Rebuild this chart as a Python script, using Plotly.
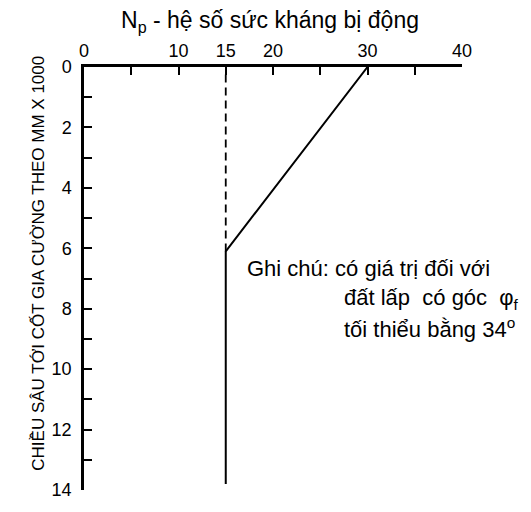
import plotly.graph_objects as go

# Data
np_solid = [30, 15, 15]
depth_solid = [0, 6.1, 13.8]
np_dashed = [15, 15]
depth_dashed = [0.25, 6.1]

x_tick_vals = [0, 10, 15, 20, 30, 40]
x_tick_text = ["0", "10", "15", "20", "30", "40"]
y_tick_vals = [0, 2, 4, 6, 8, 10, 12, 14]
y_tick_text = ["0", "2", "4", "6", "8", "10", "12", "14"]

title_text = "N<sub>p</sub> - hệ số sức kháng bị động"
y_title = "CHIỀU SÂU TỚI CỐT GIA CƯỜNG THEO MM X 1000"
note_lines = ["Ghi chú: có giá trị đối với",
              "đất lấp  có góc  φ<sub>f</sub>",
              "tối thiểu bằng 34<sup>o</sup>"]

fig = go.Figure()
fig.add_trace(go.Scatter(x=np_solid, y=depth_solid, mode="lines",
                         line=dict(color="black", width=2), showlegend=False,
                         hoverinfo="skip"))
fig.add_trace(go.Scatter(x=np_dashed, y=depth_dashed, mode="lines",
                         line=dict(color="black", width=1.8, dash="8px,5px"),
                         showlegend=False, hoverinfo="skip"))

font_family = "Liberation Sans, Arial, sans-serif"

fig.update_layout(
    width=531, height=512,
    margin=dict(l=84, r=69, t=67, b=15),
    paper_bgcolor="white", plot_bgcolor="white",
    font=dict(family=font_family, color="black"),
    xaxis=dict(side="top", range=[0, 40], tickmode="array",
               tickvals=x_tick_vals, ticktext=x_tick_text,
               ticks="inside", ticklen=8, tickwidth=2, tickcolor="black",
               minor=dict(ticks="inside", dtick=5, tick0=0, ticklen=8,
                          tickwidth=2, tickcolor="black", showgrid=False),
               showline=True, linecolor="black", linewidth=2.5,
               showgrid=False, zeroline=False, mirror=False,
               tickfont=dict(size=18, family=font_family)),
    yaxis=dict(range=[14, 0], tickmode="array",
               tickvals=y_tick_vals, ticktext=y_tick_text,
               ticks="inside", ticklen=8, tickwidth=2, tickcolor="black",
               minor=dict(ticks="inside", dtick=1, tick0=0, ticklen=8,
                          tickwidth=2, tickcolor="black", showgrid=False),
               showline=True, linecolor="black", linewidth=2.5,
               showgrid=False, zeroline=False,
               tickfont=dict(size=18, family=font_family), ticklabelstandoff=6),
)

fig.add_annotation(text=title_text, xref="paper", yref="paper",
                   x=0.5, y=1, xshift=-3, yshift=46, xanchor="center", yanchor="middle",
                   showarrow=False, font=dict(size=23, family=font_family))
fig.add_annotation(text=y_title, xref="paper", yref="paper",
                   x=0, xshift=-46, y=0.535, textangle=-90,
                   xanchor="center", yanchor="middle",
                   showarrow=False, font=dict(size=17, family=font_family))
note_pos = [(17.0, 6.68), (27.3, 7.69), (27.3, 8.63)]
for t, (xx, yy) in zip(note_lines, note_pos):
    fig.add_annotation(text=t, x=xx, y=yy, xref="x", yref="y",
                       xanchor="left", yanchor="middle", showarrow=False,
                       font=dict(size=22, family=font_family))

fig.write_html("out.html", config={"displayModeBar": False},
               post_script="document.body.style.margin='0';document.body.style.padding='0';")
